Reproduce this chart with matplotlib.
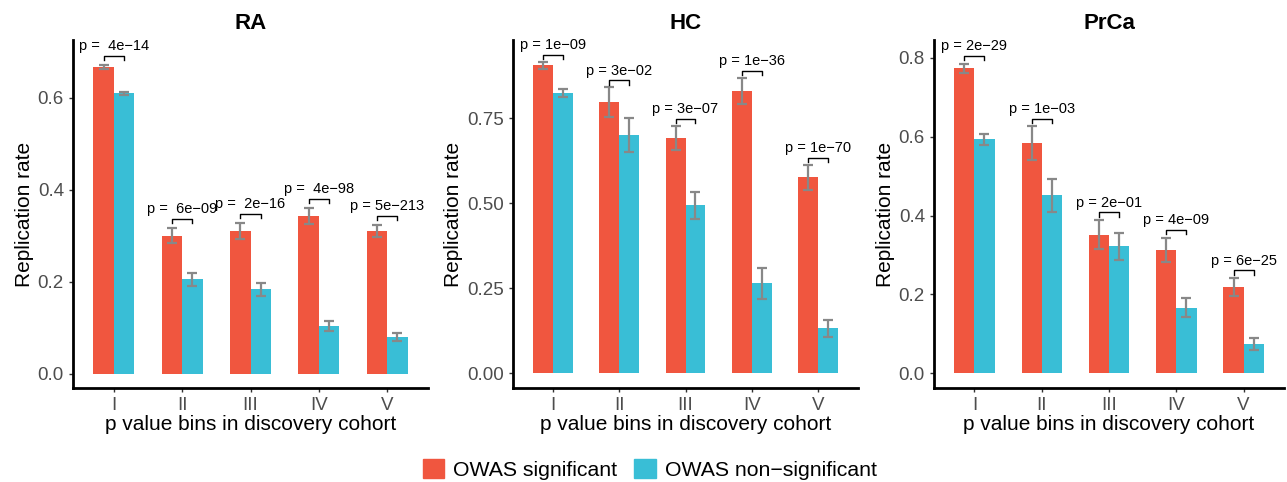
import numpy as np
import matplotlib.pyplot as plt
from matplotlib.patches import Patch

plt.rcParams['font.family'] = ['Liberation Sans', 'DejaVu Sans']

bins = ['I', 'II', 'III', 'IV', 'V']
panels = ['RA', 'HC', 'PrCa']

# replication rate, error half-width, p values per panel
ra_sig = [0.666, 0.300, 0.310, 0.342, 0.309]
ra_sig_err = [0.005, 0.016, 0.017, 0.017, 0.013]
ra_non = [0.609, 0.205, 0.183, 0.103, 0.079]
ra_non_err = [0.004, 0.0145, 0.014, 0.011, 0.008]
ra_p = ['p =  4e\u221214', 'p =  6e\u221209', 'p =  2e\u221216', 'p =  4e\u221298', 'p = 5e\u2212213']

hc_sig = [0.906, 0.797, 0.692, 0.830, 0.576]
hc_sig_err = [0.010, 0.044, 0.036, 0.039, 0.037]
hc_non = [0.824, 0.701, 0.494, 0.265, 0.132]
hc_non_err = [0.012, 0.051, 0.039, 0.045, 0.026]
hc_p = ['p = 1e\u221209', 'p = 3e\u221202', 'p = 3e\u221207', 'p = 1e\u221236', 'p = 1e\u221270']

prca_sig = [0.773, 0.583, 0.352, 0.3125, 0.218]
prca_sig_err = [0.012, 0.043, 0.036, 0.031, 0.023]
prca_non = [0.593, 0.451, 0.322, 0.167, 0.0735]
prca_non_err = [0.014, 0.042, 0.035, 0.025, 0.015]
prca_p = ['p = 2e\u221229', 'p = 1e\u221203', 'p = 2e\u221201', 'p = 4e\u221209', 'p = 6e\u221225']

data = [
    (ra_sig, ra_sig_err, ra_non, ra_non_err, ra_p, (-0.0315, 0.725), [0, 0.2, 0.4, 0.6], '%.1f'),
    (hc_sig, hc_sig_err, hc_non, hc_non_err, hc_p, (-0.043, 0.98), [0, 0.25, 0.5, 0.75], '%.2f'),
    (prca_sig, prca_sig_err, prca_non, prca_non_err, prca_p, (-0.037, 0.845), [0, 0.2, 0.4, 0.6, 0.8], '%.1f'),
]

red = '#F0563F'
blue = '#39BED6'
errc = '#888888'
W, H = 1287, 482
axpos = [(73, 428), (513, 858), (934, 1284)]

fig = plt.figure(figsize=(W / 100, H / 100), dpi=100)

for k, (sig, sig_e, non, non_e, pv, ylim, yt, fmt) in enumerate(data):
    l, r = axpos[k]
    ax = fig.add_axes([l / W, (H - 388) / H, (r - l) / W, 348 / H])
    x = np.arange(1, 6)
    bw = 0.3
    ax.bar(x - bw / 2, sig, bw, color=red)
    ax.bar(x + bw / 2, non, bw, color=blue)
    ax.errorbar(x - bw / 2, sig, yerr=sig_e, fmt='none', ecolor=errc, elinewidth=1.6, capsize=3.3, capthick=1.6)
    ax.errorbar(x + bw / 2, non, yerr=non_e, fmt='none', ecolor=errc, elinewidth=1.6, capsize=3.3, capthick=1.6)
    rng = ylim[1] - ylim[0]
    for i in range(5):
        top = max(sig[i] + sig_e[i], non[i] + non_e[i]) + 0.02
        tk = rng * 0.012
        ax.plot([x[i] - bw / 2, x[i] - bw / 2, x[i] + bw / 2, x[i] + bw / 2],
                [top - tk, top, top, top - tk], color='black', lw=1.0)
        ax.text(x[i], top + rng * 0.008, pv[i], ha='center', va='bottom', fontsize=10.5)
    ax.set_xlim(0.4, 5.6)
    ax.set_ylim(*ylim)
    ax.set_yticks(yt)
    ax.set_yticklabels([fmt % v for v in yt])
    ax.set_xticks(x)
    ax.set_xticklabels(bins)
    for s in ['top', 'right']:
        ax.spines[s].set_visible(False)
    for s in ['left', 'bottom']:
        ax.spines[s].set_linewidth(2)
    ax.tick_params(axis='both', colors='#333333', labelcolor='#4D4D4D', labelsize=13.5, length=3, width=1)
    ax.set_ylabel('Replication rate', fontsize=15, labelpad=3)
    ax.set_xlabel('p value bins in discovery cohort', fontsize=15, labelpad=1)
    ax.set_title(panels[k], fontsize=16, fontweight='bold', pad=8)

handles = [Patch(color=red, label='OWAS significant'), Patch(color=blue, label='OWAS non\u2212significant')]
fig.legend(handles=handles, loc='lower center', bbox_to_anchor=(0.505, -0.035), ncol=2, frameon=False,
           fontsize=15.3, handlelength=1.0, handleheight=1.0, handletextpad=0.45, columnspacing=0.8)

fig.savefig('out.png', dpi=100)
